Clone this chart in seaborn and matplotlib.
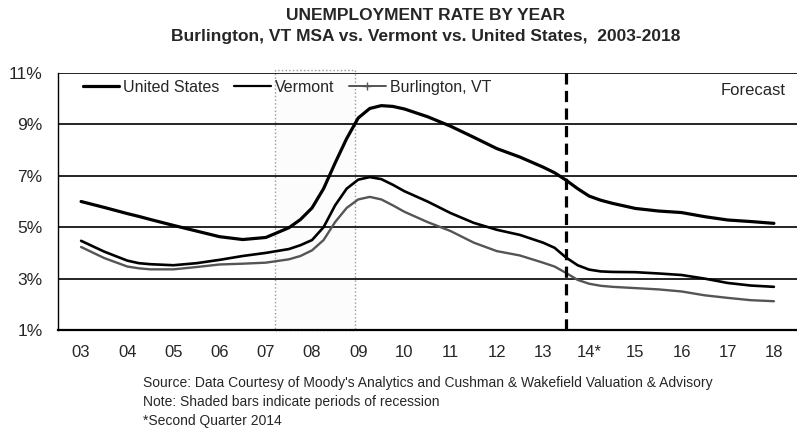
import numpy as np
import pandas as pd
import matplotlib
matplotlib.use("Agg")
import matplotlib.pyplot as plt
from matplotlib.lines import Line2D
import seaborn as sns

# ----------- Data ---------------------------------

years = [2003, 2003.5, 2004, 2004.25, 2004.5, 2005, 2005.5, 2006, 2006.5, 2007,
         2007.5, 2007.75, 2008, 2008.25, 2008.5, 2008.75, 2009, 2009.25, 2009.5,
         2009.75, 2010, 2010.5, 2011, 2011.5, 2012, 2012.5, 2013, 2013.25,
         2013.5, 2013.75, 2014, 2014.25, 2014.5, 2015, 2015.5, 2016, 2016.5,
         2017, 2017.5, 2018]

us_rate = [6.0, 5.77, 5.53, 5.42, 5.3, 5.07, 4.85, 4.63, 4.52, 4.6,
           4.98, 5.3, 5.75, 6.5, 7.5, 8.45, 9.25, 9.62, 9.73,
           9.7, 9.6, 9.3, 8.93, 8.5, 8.06, 7.73, 7.34, 7.12,
           6.83, 6.5, 6.21, 6.05, 5.93, 5.73, 5.63, 5.57, 5.41,
           5.28, 5.22, 5.15]

vermont_rate = [4.47, 4.05, 3.7, 3.6, 3.56, 3.52, 3.6, 3.73, 3.88, 4.0,
                4.15, 4.3, 4.5, 5.0, 5.85, 6.5, 6.85, 6.95, 6.87,
                6.65, 6.4, 6.0, 5.55, 5.17, 4.9, 4.7, 4.4, 4.2,
                3.82, 3.52, 3.35, 3.28, 3.26, 3.25, 3.2, 3.14, 3.0,
                2.83, 2.73, 2.68]

burlington_rate = [4.23, 3.8, 3.47, 3.4, 3.36, 3.36, 3.45, 3.55, 3.58, 3.62,
                   3.75, 3.88, 4.1, 4.5, 5.2, 5.75, 6.08, 6.18, 6.08,
                   5.85, 5.6, 5.2, 4.85, 4.4, 4.07, 3.9, 3.62, 3.47,
                   3.22, 2.95, 2.8, 2.72, 2.68, 2.63, 2.58, 2.5, 2.35,
                   2.25, 2.16, 2.12]

tick_years = list(range(2003, 2019))
tick_labels = ["03", "04", "05", "06", "07", "08", "09", "10", "11", "12",
               "13", "14*", "15", "16", "17", "18"]
y_ticks = [1, 3, 5, 7, 9, 11]

recession = (2007.2, 2008.93)
forecast_start = 2013.5

df = pd.DataFrame({
    "year": years * 3,
    "rate": us_rate + vermont_rate + burlington_rate,
    "area": ["United States"] * len(years) + ["Vermont"] * len(years)
            + ["Burlington, VT"] * len(years),
})

# ----------- Plot --------------

sns.set_style("white")
plt.rcParams["font.family"] = ["Liberation Sans", "DejaVu Sans"]

fig = plt.figure(figsize=(7.97, 4.40), dpi=100)
ax = fig.add_axes([58 / 797, 1 - 330 / 440, 1 - 58 / 797, (330 - 73) / 440])

# recession shading (very faint, dotted edges)
ax.axvspan(recession[0], recession[1], ymin=0, ymax=1.01, facecolor="#fcfcfc",
           edgecolor="#9a9a9a", linestyle=":", linewidth=1.0, zorder=0, clip_on=False)

for yv in y_ticks:
    ax.axhline(yv, color="black", linewidth=1.2, zorder=1)

styles = {
    "United States": dict(color="black", lw=2.3),
    "Vermont": dict(color="black", lw=1.9),
    "Burlington, VT": dict(color="#555555", lw=1.7),
}
for name, st in styles.items():
    sns.lineplot(data=df[df["area"] == name], x="year", y="rate", ax=ax,
                 color=st["color"], linewidth=st["lw"], zorder=3,
                 legend=False)

ax.axvline(forecast_start, color="black", linewidth=2.3,
           linestyle=(0, (3.5, 2.0)), zorder=4)

ax.set_xlim(2002.5, 2018.29)
ax.set_ylim(1, 11)
ax.set_yticks(y_ticks)
ax.set_yticklabels([f"{v}%" for v in y_ticks], fontsize=12.5)
ax.set_xticks(tick_years)
ax.set_xticklabels(tick_labels, fontsize=12)
ax.set_xticks([y + 0.5 for y in range(2002, 2019)], minor=True)
ax.tick_params(axis="x", which="major", length=0, pad=11)
ax.tick_params(axis="x", which="minor", length=3, width=1, direction="out", color="black")
ax.tick_params(axis="y", length=0, pad=11)
ax.set_xlabel("")
ax.set_ylabel("")

ax.spines["right"].set_visible(False)
ax.spines["top"].set_visible(False)
ax.spines["left"].set_color("black")
ax.spines["left"].set_linewidth(1.0)
ax.spines["bottom"].set_color("black")
ax.spines["bottom"].set_linewidth(1.6)

handles = [
    Line2D([], [], color="black", lw=2.3),
    Line2D([], [], color="black", lw=1.6),
    Line2D([], [], color="#555555", lw=1.4, marker="+", markersize=6),
]
ax.legend(handles, ["United States", "Vermont", "Burlington, VT"], ncol=3,
          loc="upper left", bbox_to_anchor=(0.014, 1.03), frameon=False,
          fontsize=11.5, handlelength=2.3, handletextpad=0.25, columnspacing=0.9)

ax.text(0.985, 0.93, "Forecast", transform=ax.transAxes, ha="right", va="center",
        fontsize=12)

fig.text(426 / 797, 1 - 15 / 440, "UNEMPLOYMENT RATE BY YEAR", ha="center",
         va="center", fontsize=12.5, fontweight="bold")
fig.text(426 / 797, 1 - 37 / 440,
         "Burlington, VT MSA vs. Vermont vs. United States,  2003-2018",
         ha="center", va="center", fontsize=12.5, fontweight="bold")

notes = ["Source: Data Courtesy of Moody's Analytics and Cushman & Wakefield Valuation & Advisory",
         "Note: Shaded bars indicate periods of recession",
         "*Second Quarter 2014"]
for i, line in enumerate(notes):
    fig.text(143 / 797, 1 - (383 + i * 19) / 440, line, ha="left", va="center",
             fontsize=10)

fig.savefig("out.png", dpi=100)
